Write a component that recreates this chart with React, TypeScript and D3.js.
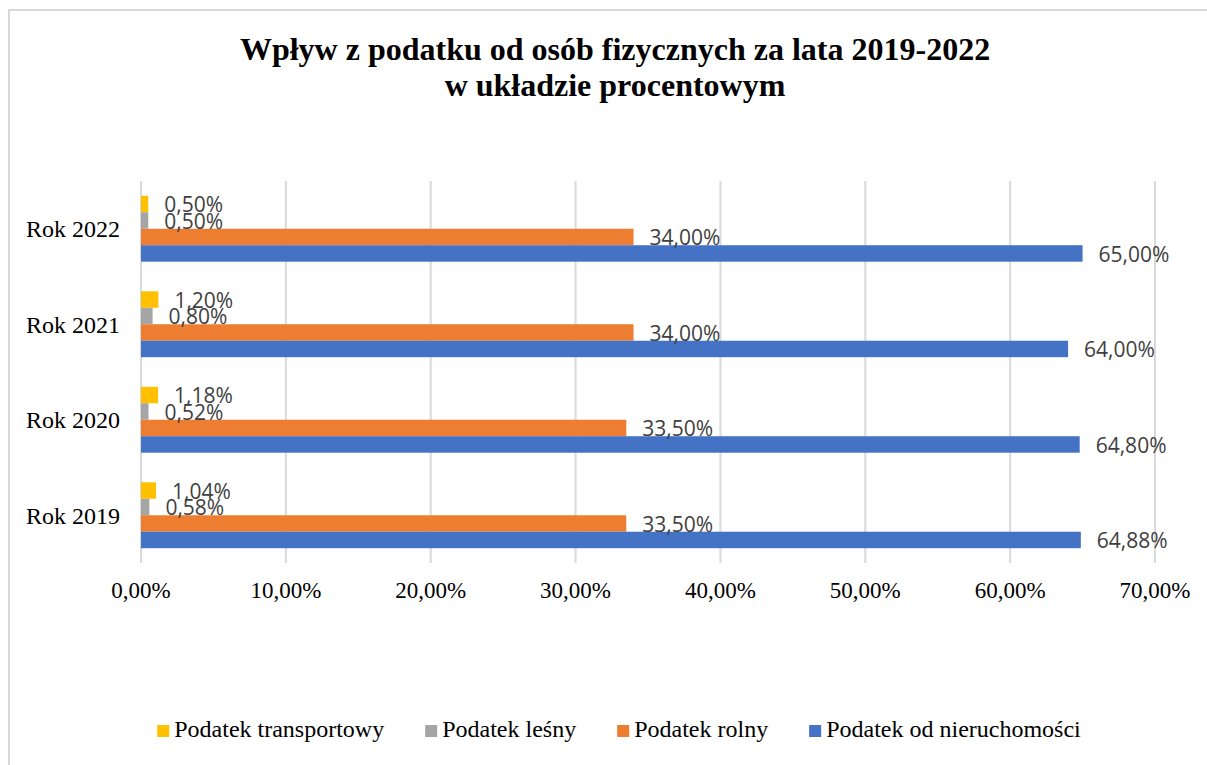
import { useEffect, useRef } from 'react';
import * as d3 from 'd3';

// categories, top to bottom as drawn
const years = ['Rok 2022', 'Rok 2021', 'Rok 2020', 'Rok 2019'];
const seriesNames = ['Podatek transportowy', 'Podatek leśny', 'Podatek rolny', 'Podatek od nieruchomości'];
const seriesColors = ['#FFC000', '#A5A5A5', '#ED7D31', '#4472C4'];

// values in %, same order as years
const transportowy = [0.5, 1.2, 1.18, 1.04];
const lesny = [0.5, 0.8, 0.52, 0.58];
const rolny = [34.0, 34.0, 33.5, 33.5];
const nieruchomosci = [65.0, 64.0, 64.8, 64.88];

const xTicks = [0, 10, 20, 30, 40, 50, 60, 70];
const titleLines = ['Wpływ z podatku od osób fizycznych za lata 2019-2022', 'w układzie procentowym'];

const pct = (v: number) => v.toFixed(2).replace('.', ',') + '%';

function App() {
  const svgRef = useRef<SVGSVGElement | null>(null);

  useEffect(() => {
    if (!svgRef.current) return;
    const svg = d3.select(svgRef.current);
    svg.selectAll('*').remove();

    const width = 1207;
    const height = 765;
    const serif = '"Liberation Serif", "Times New Roman", serif';
    const sans = '"Open Sans", "Liberation Sans", sans-serif';

    svg.append('rect').attr('width', width).attr('height', height).attr('fill', 'white');
    // chart frame, runs off the right and bottom edge
    svg.append('rect')
      .attr('x', 9).attr('y', 10)
      .attr('width', width + 20).attr('height', height + 20)
      .attr('fill', 'none').attr('stroke', '#d9d9d9').attr('stroke-width', 2);

    // title
    svg.append('text')
      .attr('x', 615).attr('text-anchor', 'middle')
      .attr('font-family', serif).attr('font-weight', 'bold').attr('font-size', 32)
      .selectAll('tspan').data(titleLines).join('tspan')
      .attr('x', 615).attr('y', (_, i) => 60 + i * 36)
      .text(d => d);

    const plot = { left: 141, right: 1155, top: 181, bottom: 563 };
    const x = d3.scaleLinear().domain([0, 70]).range([plot.left, plot.right]);
    const y = d3.scaleBand().domain(years).range([plot.top, plot.bottom])
      .paddingInner(0.31).paddingOuter(0.155);
    const ySub = d3.scaleBand().domain(seriesNames).range([0, y.bandwidth()]);

    // gridlines
    svg.append('g').selectAll('line').data(xTicks).join('line')
      .attr('x1', d => x(d)).attr('x2', d => x(d))
      .attr('y1', plot.top).attr('y2', plot.bottom)
      .attr('stroke', '#d9d9d9').attr('stroke-width', 2);

    // x tick labels
    svg.append('g').selectAll('text').data(xTicks).join('text')
      .attr('x', d => x(d)).attr('y', 598)
      .attr('text-anchor', 'middle')
      .attr('font-family', serif).attr('font-size', 23).attr('fill', '#000')
      .text(d => pct(d));

    // category labels
    svg.append('g').selectAll('text').data(years).join('text')
      .attr('x', 120).attr('y', d => (y(d) ?? 0) + y.bandwidth() / 2)
      .attr('dy', '0.35em')
      .attr('text-anchor', 'end')
      .attr('font-family', serif).attr('font-size', 24).attr('fill', '#000')
      .text(d => d);

    const allSeries = [transportowy, lesny, rolny, nieruchomosci];
    const bars = allSeries.flatMap((vals, si) =>
      vals.map((v, yi) => ({ year: years[yi], series: seriesNames[si], color: seriesColors[si], value: v }))
    );

    svg.append('g').selectAll('rect').data(bars).join('rect')
      .attr('x', x(0))
      .attr('y', d => (y(d.year) ?? 0) + (ySub(d.series) ?? 0))
      .attr('width', d => x(d.value) - x(0))
      .attr('height', ySub.bandwidth())
      .attr('fill', d => d.color);

    // data labels (they overlap on the thin bars, as in the original)
    svg.append('g').selectAll('text').data(bars).join('text')
      .attr('x', d => x(d.value) + 16)
      .attr('y', d => (y(d.year) ?? 0) + (ySub(d.series) ?? 0) + ySub.bandwidth() / 2 + 1)
      .attr('dy', '0.35em')
      .attr('font-family', sans).attr('font-size', 21).attr('fill', '#404040')
      .text(d => pct(d.value));

    // legend, centered, widths measured from the text
    const legend = svg.append('g');
    const items = seriesNames.map((name, i) => {
      const g = legend.append('g');
      g.append('rect').attr('x', 0).attr('y', -12).attr('width', 12).attr('height', 12)
        .attr('fill', seriesColors[i]);
      const t = g.append('text').attr('x', 17).attr('y', 0)
        .attr('font-family', serif).attr('font-size', 24).attr('fill', '#000')
        .text(name);
      const w = 17 + (t.node() as SVGTextElement).getComputedTextLength();
      return { g, w };
    });
    const gap = 41;
    const total = d3.sum(items, d => d.w) + gap * (items.length - 1);
    let cx = 619 - total / 2;
    items.forEach(it => {
      it.g.attr('transform', `translate(${cx},737)`);
      cx += it.w + gap;
    });
  }, []);

  return (
    <svg ref={svgRef} width={1207} height={765}
      style={{ position: 'absolute', left: 0, top: 0, display: 'block' }} />
  );
}

export default App;
